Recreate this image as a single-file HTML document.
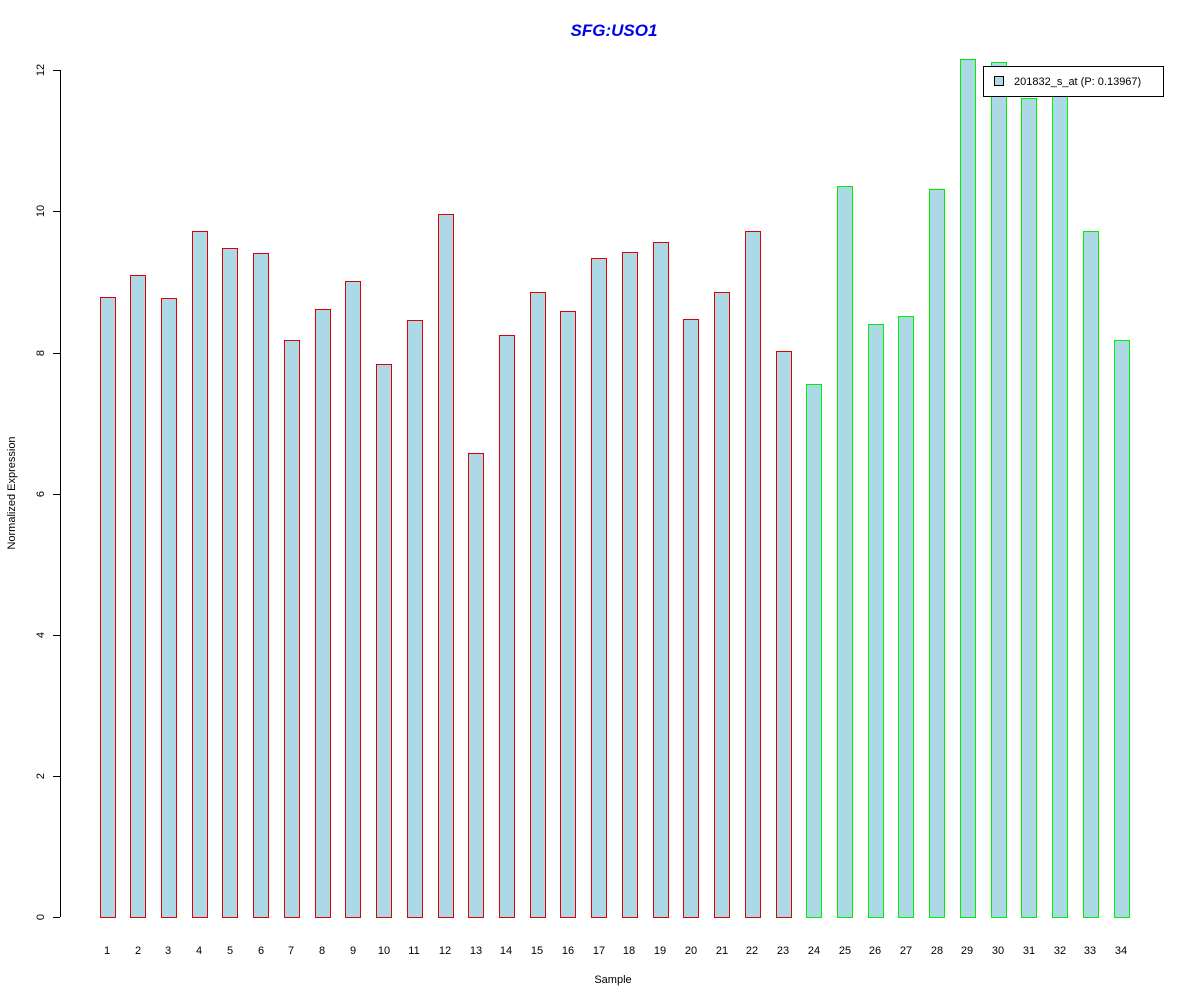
<!DOCTYPE html>
<html><head><meta charset="utf-8"><style>html,body{margin:0;padding:0;background:#fff}
.r{fill:#add8e6;stroke:#dd0000;stroke-width:1}
.g{fill:#add8e6;stroke:#00ee00;stroke-width:1}</style></head>
<body>
<svg width="1200" height="1000" xmlns="http://www.w3.org/2000/svg" font-family="Liberation Sans, Arial, sans-serif">
<rect width="1200" height="1000" fill="#fff"/>
<text x="614" y="36" text-anchor="middle" font-size="17" font-weight="bold" font-style="italic" fill="#0000ee">SFG:USO1</text>
<g stroke="#000" stroke-width="1">
<line x1="60.5" y1="70" x2="60.5" y2="917"/>
<line x1="53" y1="917.5" x2="60" y2="917.5"/>
<line x1="53" y1="776.5" x2="60" y2="776.5"/>
<line x1="53" y1="635.5" x2="60" y2="635.5"/>
<line x1="53" y1="494.5" x2="60" y2="494.5"/>
<line x1="53" y1="353.5" x2="60" y2="353.5"/>
<line x1="53" y1="211.5" x2="60" y2="211.5"/>
<line x1="53" y1="70.5" x2="60" y2="70.5"/>
</g>
<g font-size="11" text-anchor="middle" fill="#000">
<text transform="translate(44,917) rotate(-90)">0</text>
<text transform="translate(44,776) rotate(-90)">2</text>
<text transform="translate(44,635) rotate(-90)">4</text>
<text transform="translate(44,494) rotate(-90)">6</text>
<text transform="translate(44,353) rotate(-90)">8</text>
<text transform="translate(44,211) rotate(-90)">10</text>
<text transform="translate(44,70) rotate(-90)">12</text>
<text transform="translate(15,493) rotate(-90)">Normalized Expression</text>
<text x="613" y="983">Sample</text>
</g>
<rect class="r" x="100.5" y="297.5" width="15" height="620"/>
<rect class="r" x="130.5" y="275.5" width="15" height="642"/>
<rect class="r" x="161.5" y="298.5" width="15" height="619"/>
<rect class="r" x="192.5" y="231.5" width="15" height="686"/>
<rect class="r" x="222.5" y="248.5" width="15" height="669"/>
<rect class="r" x="253.5" y="253.5" width="15" height="664"/>
<rect class="r" x="284.5" y="340.5" width="15" height="577"/>
<rect class="r" x="315.5" y="309.5" width="15" height="608"/>
<rect class="r" x="345.5" y="281.5" width="15" height="636"/>
<rect class="r" x="376.5" y="364.5" width="15" height="553"/>
<rect class="r" x="407.5" y="320.5" width="15" height="597"/>
<rect class="r" x="438.5" y="214.5" width="15" height="703"/>
<rect class="r" x="468.5" y="453.5" width="15" height="464"/>
<rect class="r" x="499.5" y="335.5" width="15" height="582"/>
<rect class="r" x="530.5" y="292.5" width="15" height="625"/>
<rect class="r" x="560.5" y="311.5" width="15" height="606"/>
<rect class="r" x="591.5" y="258.5" width="15" height="659"/>
<rect class="r" x="622.5" y="252.5" width="15" height="665"/>
<rect class="r" x="653.5" y="242.5" width="15" height="675"/>
<rect class="r" x="683.5" y="319.5" width="15" height="598"/>
<rect class="r" x="714.5" y="292.5" width="15" height="625"/>
<rect class="r" x="745.5" y="231.5" width="15" height="686"/>
<rect class="r" x="776.5" y="351.5" width="15" height="566"/>
<rect class="g" x="806.5" y="384.5" width="15" height="533"/>
<rect class="g" x="837.5" y="186.5" width="15" height="731"/>
<rect class="g" x="868.5" y="324.5" width="15" height="593"/>
<rect class="g" x="898.5" y="316.5" width="15" height="601"/>
<rect class="g" x="929.5" y="189.5" width="15" height="728"/>
<rect class="g" x="960.5" y="59.5" width="15" height="858"/>
<rect class="g" x="991.5" y="62.5" width="15" height="855"/>
<rect class="g" x="1021.5" y="98.5" width="15" height="819"/>
<rect class="g" x="1052.5" y="96.5" width="15" height="821"/>
<rect class="g" x="1083.5" y="231.5" width="15" height="686"/>
<rect class="g" x="1114.5" y="340.5" width="15" height="577"/>
<g font-size="11" text-anchor="middle" fill="#000">
<text x="107" y="954">1</text><text x="138" y="954">2</text><text x="168" y="954">3</text><text x="199" y="954">4</text><text x="230" y="954">5</text><text x="261" y="954">6</text><text x="291" y="954">7</text><text x="322" y="954">8</text><text x="353" y="954">9</text><text x="384" y="954">10</text><text x="414" y="954">11</text><text x="445" y="954">12</text><text x="476" y="954">13</text><text x="506" y="954">14</text><text x="537" y="954">15</text><text x="568" y="954">16</text><text x="599" y="954">17</text><text x="629" y="954">18</text><text x="660" y="954">19</text><text x="691" y="954">20</text><text x="722" y="954">21</text><text x="752" y="954">22</text><text x="783" y="954">23</text><text x="814" y="954">24</text><text x="845" y="954">25</text><text x="875" y="954">26</text><text x="906" y="954">27</text><text x="937" y="954">28</text><text x="967" y="954">29</text><text x="998" y="954">30</text><text x="1029" y="954">31</text><text x="1060" y="954">32</text><text x="1090" y="954">33</text><text x="1121" y="954">34</text>
</g>
<rect x="983.5" y="66.5" width="180" height="30" fill="#fff" stroke="#000"/>
<rect x="994.5" y="76.5" width="9" height="9" fill="#add8e6" stroke="#000"/>
<text x="1014" y="85" font-size="11">201832_s_at (P: 0.13967)</text>
</svg>
</body></html>
